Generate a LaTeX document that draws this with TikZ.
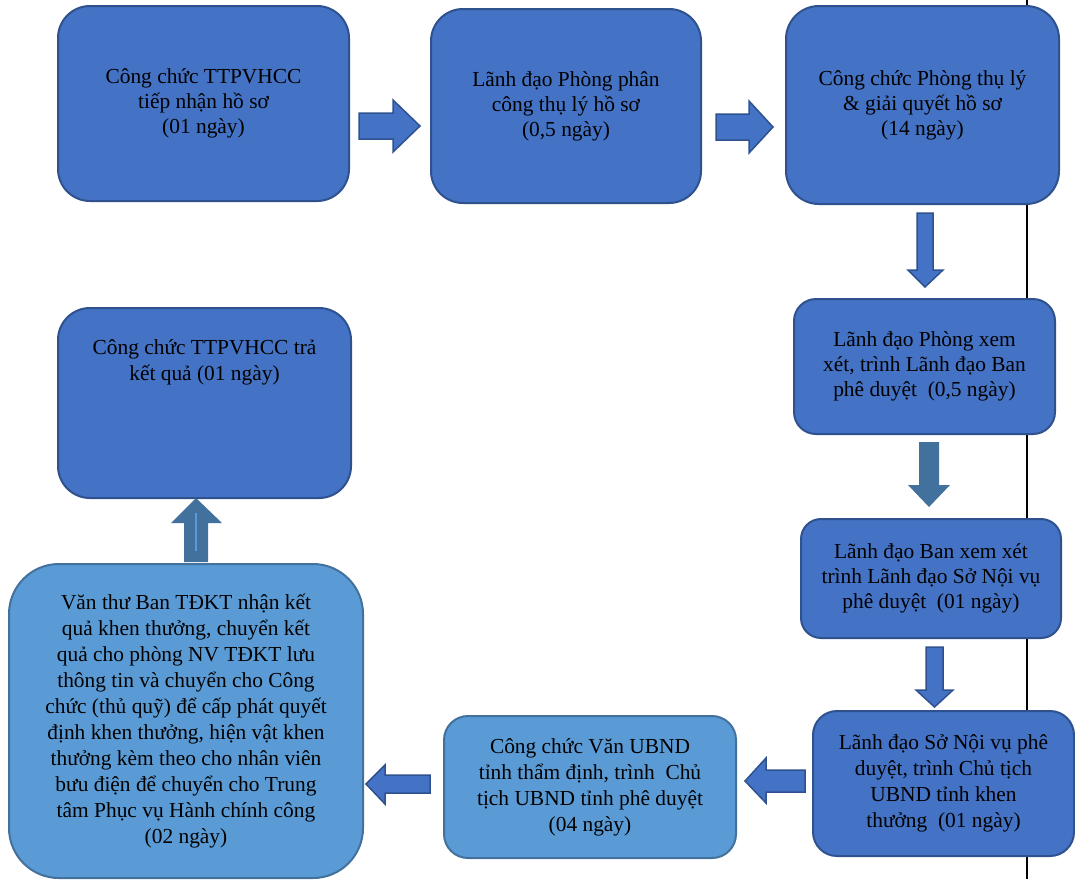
\documentclass[tikz,border=0pt]{standalone}
\usepackage{fontspec}
\setmainfont{Liberation Serif}
\usetikzlibrary{calc}
\definecolor{dk}{HTML}{4472C4}
\definecolor{dkb}{HTML}{2F528F}
\definecolor{lt}{HTML}{5B9BD5}
\definecolor{ltb}{HTML}{41719C}
\tikzset{
  box/.style={draw=dkb, line width=2pt, fill=dk, anchor=north west, inner sep=0pt,
    align=center, font=\fontsize{21.4}{25}\selectfont},
  lbox/.style={box, fill=lt, draw=ltb, font=\fontsize{21.4}{26}\selectfont},
  txt/.style={inner sep=0pt, align=center, font=\fontsize{21.4}{26}\selectfont},
  barrow/.style={fill=dk, draw=dkb, line width=1.5pt, line join=miter},
  sarrow/.style={fill=ltb}
}
\begin{document}
\begin{tikzpicture}[x=1pt,y=-1pt]
\useasboundingbox (0,0) rectangle (1075,879);
\fill[white] (0,0) rectangle (1075,879);
% vertical rule
\draw[line width=1.5pt] (1027,0) -- (1027,879);

% boxes
\node[box, rounded corners=32pt, minimum width=291pt, minimum height=195pt] (A) at (57,5)
  {Công chức TTPVHCC\\tiếp nhận hồ sơ\\(01 ngày)};
\node[box, rounded corners=32pt, minimum width=270pt, minimum height=194pt] (B) at (430,8)
  {Lãnh đạo Phòng phân\\công thụ lý hồ sơ\\(0,5 ngày)};
\node[box, rounded corners=33pt, minimum width=273pt, minimum height=198pt] (C) at (785,5)
  {Công chức Phòng thụ lý\\\& giải quyết hồ sơ\\(14 ngày)};
\node[box, rounded corners=22pt, minimum width=261pt, minimum height=135pt] (D) at (793,298)
  {Lãnh đạo Phòng xem\\xét, trình Lãnh đạo Ban\\phê duyệt~ (0,5 ngày)};
\node[box, rounded corners=20pt, minimum width=260pt, minimum height=119pt] (E) at (800,518)
  {Lãnh đạo Ban xem xét\\trình Lãnh đạo Sở Nội vụ\\phê duyệt~ (01 ngày)};
\node[box, rounded corners=24pt, minimum width=261pt, minimum height=145pt, font=\fontsize{21.4}{26}\selectfont] (F) at (812,710)
  {Lãnh đạo Sở Nội vụ phê\\duyệt, trình Chủ tịch\\UBND tỉnh khen\\thưởng~ (01 ngày)};
\node[lbox, rounded corners=24pt, minimum width=292pt, minimum height=142pt] (G) at (443,715)
  {Công chức Văn UBND\\tỉnh thẩm định, trình~ Chủ\\tịch UBND tỉnh phê duyệt\\(04 ngày)};
\node[lbox, rounded corners=50pt, minimum width=354pt, minimum height=314pt] (H) at (8,563)
  {Văn thư Ban TĐKT nhận kết\\quả khen thưởng, chuyển kết\\quả cho phòng NV TĐKT lưu\\thông tin và chuyển cho Công\\chức (thủ quỹ) để cấp phát quyết\\định khen thưởng, hiện vật khen\\thưởng kèm theo cho nhân viên\\bưu điện để chuyển cho Trung\\tâm Phục vụ Hành chính công\\(02 ngày)};
\node[box, rounded corners=32pt, minimum width=293pt, minimum height=190pt] (I) at (57,307) {};
\node[txt, anchor=north] (Itext) at ($(I.north)+(0,32)$) {Công chức TTPVHCC trả\\kết quả (01 ngày)};

% block arrows
% A -> B
\draw[barrow] (359,113) -- (393,113) -- (393,100) -- (420,126) -- (393,152) -- (393,139) -- (359,139) -- cycle;
% B -> C
\draw[barrow] (716,114) -- (749,114) -- (749,101) -- (773,127) -- (749,153) -- (749,140) -- (716,140) -- cycle;
% C -> D
\draw[barrow] (917,213) -- (933,213) -- (933,270) -- (943,270) -- (925,287) -- (908,270) -- (917,270) -- cycle;
% D -> E
\fill[sarrow] (919,442) -- (939,442) -- (939,485) -- (950,485) -- (929,507) -- (908,485) -- (919,485) -- cycle;
% E -> F
\draw[barrow] (926,647) -- (943,647) -- (943,690) -- (953,690) -- (934.5,707) -- (916,690) -- (926,690) -- cycle;
% F -> G
\draw[barrow] (805,770) -- (766,770) -- (766,758) -- (745,781) -- (766,803) -- (766,792) -- (805,792) -- cycle;
% G -> H
\draw[barrow] (430,775) -- (385,775) -- (385,765) -- (366,784) -- (385,804) -- (385,793) -- (430,793) -- cycle;
% H -> I
\fill[sarrow] (184,562) -- (184,523) -- (171,523) -- (196,498) -- (222,523) -- (208,523) -- (208,562) -- cycle;
\draw[lt, line width=2pt] (196,513) -- (196,551);
\end{tikzpicture}
\end{document}
